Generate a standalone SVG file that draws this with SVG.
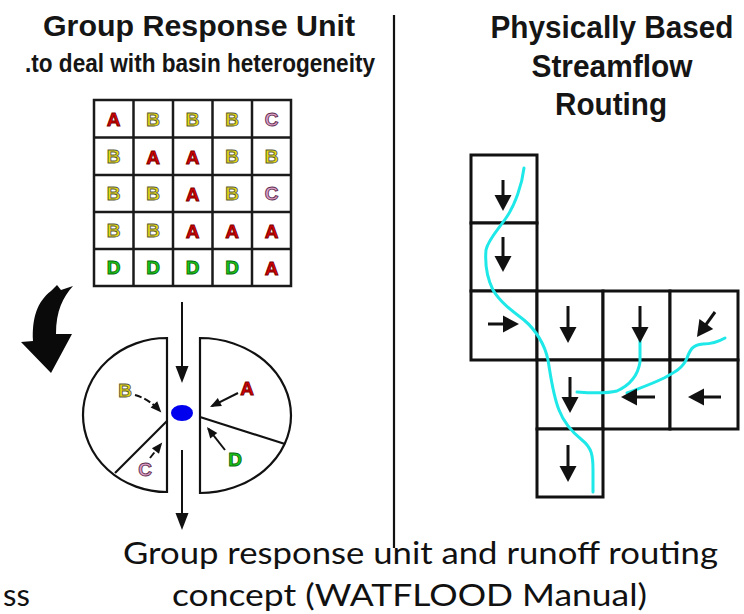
<svg xmlns="http://www.w3.org/2000/svg" width="744" height="614" viewBox="0 0 744 614">
  <style>
    .title { font-family: "Liberation Sans", Arial, sans-serif; font-weight: bold; fill: #151515; }
    .cap { font-family: Lato, "Open Sans", sans-serif; font-size: 31px; fill: #111; }
    .cell { fill: #fff; stroke: #1a1a1a; stroke-width: 2.5; }
    .rcell { fill: #fff; stroke: #111; stroke-width: 3; }
    .ltr { font-family: "Liberation Sans", Arial, sans-serif; font-weight: bold; font-size: 19px; text-anchor: middle; stroke-width: 0.9; }
    .A { fill: #d80000; stroke: #7a0000; }
    .B { fill: #e8dc10; stroke: #5a5a40; }
    .C { fill: #e0a0c8; stroke: #603050; }
    .D { fill: #18c818; stroke: #0a6a0a; }
    .pie { fill: #fff; stroke: #111; stroke-width: 2.2; }
    .arrR { stroke: #111; stroke-width: 3; fill: none; marker-end: url(#headR); }
    .arrL { stroke: #111; stroke-width: 2; fill: none; marker-end: url(#headL); }
    .arrS { stroke: #111; stroke-width: 2; fill: none; marker-end: url(#headS); }
    .dash { stroke-dasharray: 7 3; }
    .river { fill: none; stroke: #1ee8e8; stroke-width: 3; stroke-linecap: round; stroke-linejoin: round; }
  </style>
  <defs>
    <marker id="headR" markerUnits="userSpaceOnUse" orient="auto" overflow="visible" refX="0" refY="0" markerWidth="20" markerHeight="20">
      <path d="M-12,-8.5 L4,0 L-12,8.5 Z" fill="#111"/>
    </marker>
    <marker id="headL" markerUnits="userSpaceOnUse" orient="auto" overflow="visible" refX="0" refY="0" markerWidth="20" markerHeight="20">
      <path d="M-14,-6.5 L3,0 L-14,6.5 Z" fill="#111"/>
    </marker>
    <marker id="headS" markerUnits="userSpaceOnUse" orient="auto" overflow="visible" refX="0" refY="0" markerWidth="14" markerHeight="14">
      <path d="M-9,-4.5 L2,0 L-9,4.5 Z" fill="#111"/>
    </marker>
  </defs>
  <rect width="744" height="614" fill="#fff"/>

  <g id="left-title">
    <text class="title" x="199" y="36" font-size="30" text-anchor="middle" textLength="312" lengthAdjust="spacingAndGlyphs">Group Response Unit</text>
    <text class="title" x="200" y="72" font-size="26" text-anchor="middle" textLength="350" lengthAdjust="spacingAndGlyphs">.to deal with basin heterogeneity</text>
  </g>

  <g id="right-title">
    <text class="title" x="612" y="38" font-size="31" text-anchor="middle" textLength="243" lengthAdjust="spacingAndGlyphs">Physically Based</text>
    <text class="title" x="612" y="77" font-size="31" text-anchor="middle" textLength="161" lengthAdjust="spacingAndGlyphs">Streamflow</text>
    <text class="title" x="611" y="115" font-size="31" text-anchor="middle" textLength="112" lengthAdjust="spacingAndGlyphs">Routing</text>
  </g>

  <line id="divider" x1="394" y1="15" x2="394" y2="548" stroke="#111" stroke-width="2.2"/>

  <g id="gru-grid">
    <rect class="cell" x="94" y="100" width="197" height="186"/>
    <g stroke="#1a1a1a" stroke-width="2.5">
      <line x1="133.5" y1="100" x2="133.5" y2="286"/>
      <line x1="173" y1="100" x2="173" y2="286"/>
      <line x1="212.5" y1="100" x2="212.5" y2="286"/>
      <line x1="252" y1="100" x2="252" y2="286"/>
      <line x1="94" y1="137.5" x2="291" y2="137.5"/>
      <line x1="94" y1="175" x2="291" y2="175"/>
      <line x1="94" y1="212" x2="291" y2="212"/>
      <line x1="94" y1="249" x2="291" y2="249"/>
    </g>
    <text class="ltr A" x="113.5" y="126">A</text>
    <text class="ltr B" x="153" y="126">B</text>
    <text class="ltr B" x="192.5" y="126">B</text>
    <text class="ltr B" x="232" y="126">B</text>
    <text class="ltr C" x="271.5" y="126">C</text>

    <text class="ltr B" x="113.5" y="163">B</text>
    <text class="ltr A" x="153" y="164">A</text>
    <text class="ltr A" x="192.5" y="164">A</text>
    <text class="ltr B" x="232" y="163">B</text>
    <text class="ltr B" x="271.5" y="163">B</text>

    <text class="ltr B" x="113.5" y="200">B</text>
    <text class="ltr B" x="153" y="200">B</text>
    <text class="ltr A" x="192.5" y="201">A</text>
    <text class="ltr B" x="232" y="200">B</text>
    <text class="ltr C" x="271.5" y="200">C</text>

    <text class="ltr B" x="113.5" y="237">B</text>
    <text class="ltr B" x="153" y="237">B</text>
    <text class="ltr A" x="192.5" y="238">A</text>
    <text class="ltr A" x="232" y="238">A</text>
    <text class="ltr A" x="271.5" y="238">A</text>

    <text class="ltr D" x="113.5" y="274">D</text>
    <text class="ltr D" x="153" y="274">D</text>
    <text class="ltr D" x="192.5" y="274">D</text>
    <text class="ltr D" x="232" y="274">D</text>
    <text class="ltr A" x="271.5" y="275">A</text>
  </g>

  <g id="curved-arrow">
    <path d="M51,291 L57,285 L61,290 L73,286 C63,297 56,311 56,334 L72,334 L51,373 L21,342 L33,341 C32,318 37,302 51,291 Z" fill="#0a0a0a"/>
  </g>

  <g id="pie-left">
    <path class="pie" d="M167,338 A84,77 0 0 0 167,492 Z"/>
    <line x1="167" y1="421" x2="115" y2="473" stroke="#111" stroke-width="2.2"/>
    <text class="ltr B" x="125" y="397" font-size="14">B</text>
    <text class="ltr C" x="145" y="476" font-size="16">C</text>
  </g>

  <g id="pie-right">
    <path class="pie" d="M200,338 A91,77.5 0 0 1 200,493 Z"/>
    <line x1="200" y1="417" x2="285" y2="444" stroke="#111" stroke-width="2.2"/>
    <text class="ltr A" x="247" y="395" font-size="18">A</text>
    <text class="ltr D" x="235" y="466" font-size="17">D</text>
  </g>

  <g id="outlet">
    <ellipse cx="182" cy="413" rx="11" ry="8" fill="#0000ee"/>
  </g>

  <g id="routing-grid">
    <rect class="rcell" x="471" y="155" width="66" height="68"/>
    <rect class="rcell" x="471" y="223" width="66" height="68"/>
    <rect class="rcell" x="471" y="291" width="66" height="69"/>
    <rect class="rcell" x="537" y="291" width="66" height="69"/>
    <rect class="rcell" x="603" y="291" width="67" height="69"/>
    <rect class="rcell" x="670" y="291" width="68" height="69"/>
    <rect class="rcell" x="537" y="360" width="66" height="69"/>
    <rect class="rcell" x="603" y="360" width="67" height="69"/>
    <rect class="rcell" x="670" y="360" width="68" height="69"/>
    <rect class="rcell" x="537" y="429" width="66" height="68"/>
  </g>

  <g id="river">
    <path class="river" d="M524,168 C522,185 515,205 506,218 C497,231 488,240 486,250 C485,262 486,276 493,290 C500,302 512,311 524,320 C536,330 545,345 548,360 C551,378 553,395 559,410 C564,423 572,432 582,440 C592,448 593,456 593,470 L593,492"/>
    <path class="river" d="M640,340 L640,362 C638,375 630,385 617,391 C605,394 590,393 577,392"/>
    <path class="river" d="M725,338 C718,342 712,344 703,344 C692,345 690,350 687,358 C683,368 675,372 664,378 C652,384 640,388 627,393"/>
  </g>

  <g id="connectors">
    <line class="arrL" x1="182" y1="302" x2="182" y2="380"/>
    <line class="arrL" x1="182" y1="450" x2="182" y2="527"/>
    <path class="arrS dash" d="M135,395 Q149,399 160,411"/>
    <path class="arrS dash" d="M150,458 L161,444"/>
    <line class="arrS" x1="238" y1="393" x2="211.8" y2="406.1"/>
    <line class="arrS" x1="225" y1="450" x2="208.2" y2="428.6"/>

    <line class="arrR" x1="503" y1="180" x2="503" y2="207"/>
    <line class="arrR" x1="503" y1="237" x2="503" y2="268"/>
    <line class="arrR" x1="488" y1="324" x2="515" y2="324"/>
    <line class="arrR" x1="568" y1="306" x2="568" y2="339"/>
    <line class="arrR" x1="640" y1="306" x2="640" y2="339"/>
    <line class="arrR" x1="715" y1="312" x2="699.3" y2="333.8"/>
    <line class="arrR" x1="570" y1="377" x2="570" y2="409"/>
    <line class="arrR" x1="655" y1="397" x2="625" y2="397"/>
    <line class="arrR" x1="721" y1="397" x2="692" y2="397"/>
    <line class="arrR" x1="568" y1="445" x2="568" y2="478"/>
  </g>

  <g id="caption">
    <text class="cap" x="123" y="564" textLength="595" lengthAdjust="spacingAndGlyphs">Group response unit and runoff routing</text>
    <text class="cap" x="172" y="606" textLength="475" lengthAdjust="spacingAndGlyphs">concept (WATFLOOD Manual)</text>
    <text class="cap" x="3" y="606" font-size="32">ss</text>
  </g>
</svg>
